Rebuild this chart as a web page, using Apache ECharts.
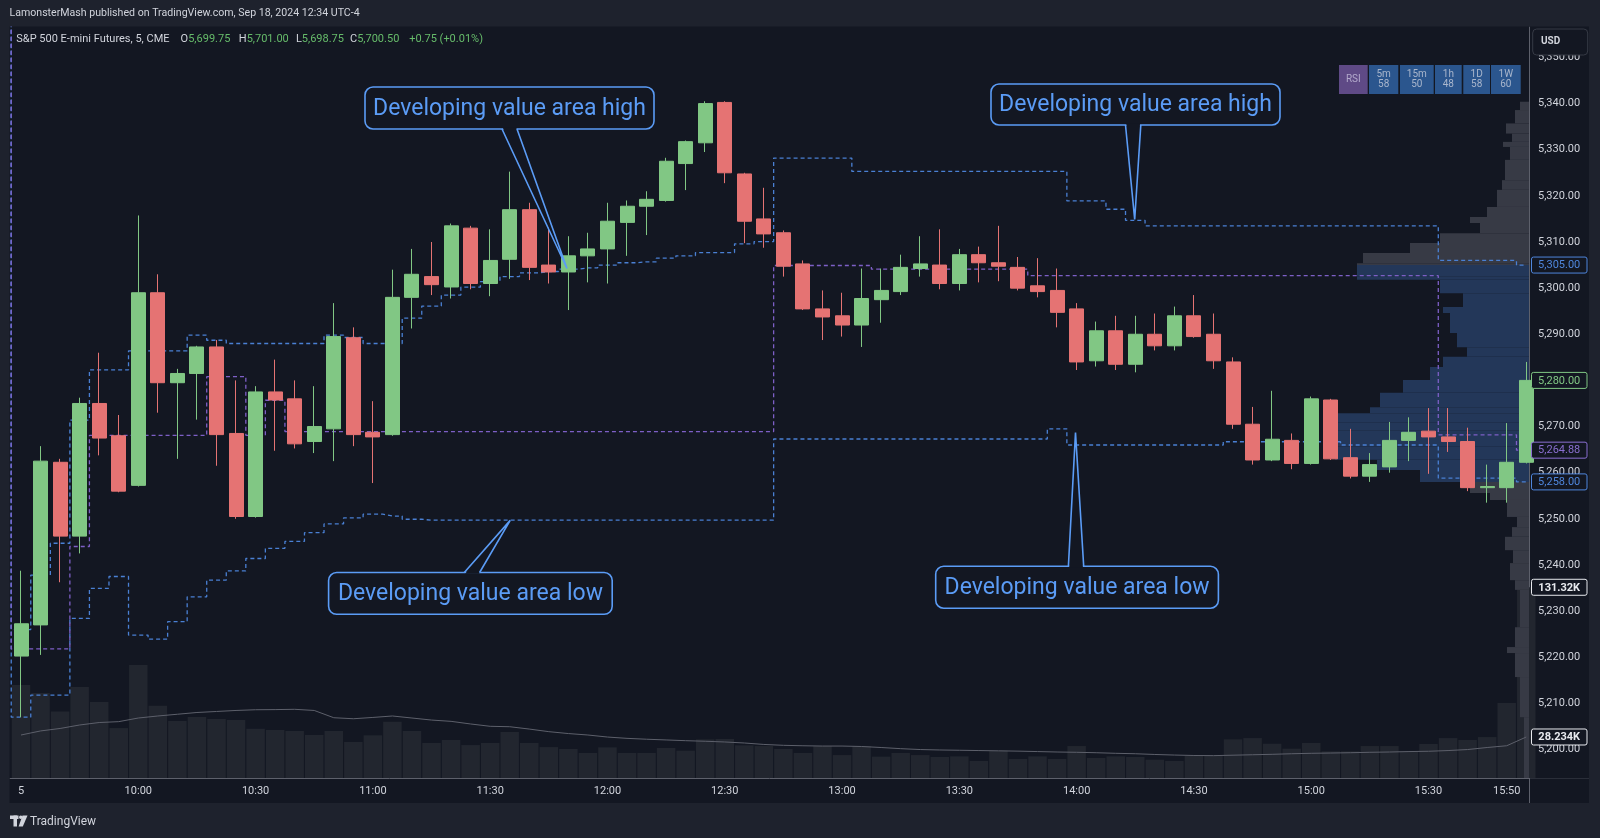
<!DOCTYPE html>
<html>
<head>
<meta charset="utf-8">
<title>ES 5m - developing value area</title>
<script src="https://cdn.jsdelivr.net/npm/echarts@6/dist/echarts.min.js"></script>
<style>
  html, body { margin: 0; padding: 0; background: #1e222d; }
  #chart { width: 1600px; height: 838px; }
</style>
</head>
<body>
<div id="chart"></div>
<script>
// 5-minute bars, 09:30 .. 15:55 (78 bars)
const opens = [
  5220.25, 5227.00, 5262.25, 5246.25, 5275.00, 5268.00, 5257.25, 5299.00, 5279.50, 5281.50,
  5287.25, 5268.50, 5250.50, 5277.50, 5276.00, 5266.75, 5269.50, 5289.25, 5268.75, 5268.25,
  5298.00, 5302.50, 5300.25, 5313.00, 5301.00, 5306.25, 5317.00, 5305.00, 5303.50, 5307.00,
  5308.50, 5314.25, 5317.75, 5319.00, 5327.00, 5331.50, 5340.25, 5324.75, 5315.00, 5312.00,
  5305.25, 5295.50, 5294.00, 5292.00, 5297.50, 5299.25, 5304.25, 5305.00, 5301.00, 5307.25,
  5305.50, 5304.50, 5300.50, 5299.50, 5295.50, 5284.25, 5290.75, 5283.50, 5290.00, 5287.50,
  5294.00, 5290.00, 5284.00, 5270.50, 5262.75, 5267.00, 5262.00, 5275.75, 5263.25, 5259.25,
  5261.25, 5267.00, 5269.00, 5267.75, 5266.75, 5256.75, 5256.75, 5262.25
];
const highs = [
  5238.75, 5265.75, 5263.00, 5276.25, 5286.00, 5272.50, 5315.75, 5303.00, 5282.50, 5287.50,
  5288.75, 5280.00, 5278.75, 5284.50, 5280.00, 5278.75, 5296.75, 5291.50, 5275.50, 5304.00,
  5308.50, 5310.00, 5314.00, 5313.50, 5312.75, 5325.25, 5318.50, 5314.75, 5311.25, 5312.00,
  5318.50, 5319.00, 5321.00, 5328.25, 5332.00, 5340.50, 5340.50, 5325.00, 5321.75, 5312.50,
  5306.00, 5299.50, 5299.00, 5304.25, 5304.25, 5307.25, 5311.25, 5312.75, 5308.50, 5309.00,
  5313.50, 5306.75, 5306.50, 5304.25, 5296.75, 5292.75, 5294.00, 5294.00, 5294.50, 5296.00,
  5298.50, 5294.50, 5285.00, 5274.25, 5277.75, 5268.50, 5276.50, 5276.00, 5269.50, 5264.25,
  5271.00, 5272.00, 5274.00, 5274.00, 5269.75, 5261.75, 5270.75, 5284.00
];
const lows = [
  5207.00, 5220.50, 5236.25, 5242.50, 5263.75, 5255.75, 5257.00, 5273.00, 5263.00, 5271.50,
  5261.50, 5250.00, 5250.25, 5264.75, 5265.25, 5264.25, 5262.50, 5265.75, 5257.75, 5268.00,
  5291.25, 5298.50, 5297.75, 5299.75, 5298.25, 5302.00, 5301.75, 5301.00, 5295.25, 5301.25,
  5301.00, 5307.00, 5311.50, 5318.75, 5321.25, 5329.50, 5322.75, 5309.75, 5308.75, 5302.50,
  5295.25, 5288.75, 5289.50, 5287.25, 5292.50, 5298.50, 5302.50, 5299.75, 5299.50, 5301.25,
  5301.50, 5299.50, 5298.00, 5291.50, 5282.25, 5283.00, 5282.25, 5281.75, 5286.50, 5286.50,
  5289.25, 5282.50, 5269.50, 5261.75, 5262.50, 5260.75, 5261.75, 5262.75, 5258.75, 5258.00,
  5260.00, 5262.50, 5259.75, 5264.50, 5256.00, 5253.50, 5253.50, 5262.00
];
const closes = [
  5227.25, 5262.50, 5246.25, 5275.00, 5267.50, 5256.00, 5299.00, 5279.50, 5281.50, 5287.25,
  5268.25, 5250.50, 5277.50, 5275.75, 5266.25, 5270.00, 5289.50, 5268.25, 5267.75, 5298.00,
  5303.00, 5300.75, 5313.50, 5301.00, 5306.00, 5317.00, 5304.50, 5303.50, 5307.00, 5308.50,
  5314.50, 5317.75, 5319.25, 5327.50, 5331.75, 5340.00, 5325.00, 5314.50, 5311.75, 5304.75,
  5295.50, 5293.75, 5292.00, 5297.75, 5299.50, 5304.50, 5305.25, 5301.00, 5307.25, 5305.50,
  5304.75, 5300.00, 5299.25, 5294.75, 5284.00, 5290.75, 5283.50, 5290.00, 5287.50, 5294.00,
  5289.50, 5284.25, 5270.50, 5262.75, 5267.25, 5262.00, 5276.00, 5263.00, 5259.25, 5261.75,
  5267.00, 5268.75, 5267.75, 5266.75, 5256.75, 5257.00, 5262.25, 5280.00
];
// volume in thousands of contracts, and its moving average
const volumes = [
  64.0, 58.5, 45.8, 62.7, 52.3, 34.4, 77.8, 49.8, 39.3, 42.0,
  40.6, 39.9, 33.9, 33.1, 32.4, 29.6, 32.4, 24.8, 29.4, 38.8,
  32.4, 24.1, 26.2, 22.7, 24.1, 31.7, 24.1, 21.3, 20.0, 17.2,
  21.1, 17.2, 17.2, 20.7, 18.8, 26.6, 26.9, 22.5, 22.0, 20.0,
  17.2, 22.0, 15.8, 22.0, 14.7, 17.2, 15.8, 14.5, 14.9, 11.7,
  18.8, 13.1, 14.9, 13.1, 22.0, 13.8, 14.9, 14.5, 12.6, 11.7,
  15.4, 15.4, 26.6, 27.5, 23.6, 20.2, 24.1, 18.4, 18.4, 22.0,
  22.0, 18.4, 23.4, 27.5, 26.2, 28.2, 51.6, 131.32
];
const volumeMA = [
  29.6, 32.4, 34.1, 36.5, 38.2, 38.8, 41.3, 42.7, 43.9, 45.1,
  45.8, 46.5, 47.0, 47.1, 47.3, 46.5, 41.5, 40.8, 41.7, 42.7,
  41.3, 39.9, 39.0, 37.2, 35.6, 35.3, 33.7, 31.9, 30.6, 29.6,
  28.2, 27.3, 26.7, 26.2, 25.7, 25.3, 24.8, 24.1, 23.1, 22.5,
  22.2, 22.0, 22.0, 21.7, 21.0, 20.2, 19.6, 19.3, 19.1, 18.9,
  18.7, 18.5, 18.2, 17.9, 17.7, 17.4, 17.0, 16.7, 16.2, 15.8,
  15.5, 15.4, 15.7, 16.0, 16.3, 16.7, 17.0, 17.2, 17.4, 17.7,
  17.9, 18.2, 18.4, 18.9, 19.6, 21.0, 22.2, 28.234
];
// developing value area high / low and point of control
const devVAH = [
  5226.0, 5237.8, 5244.7, 5271.4, 5282.3, 5282.3, 5286.4, 5286.4, 5286.4, 5289.8,
  5288.7, 5288.0, 5288.0, 5288.0, 5288.0, 5288.0, 5289.8, 5289.3, 5288.0, 5288.0,
  5293.5, 5296.1, 5298.5, 5300.2, 5301.4, 5302.5, 5303.3, 5303.6, 5304.1, 5304.4,
  5305.0, 5305.5, 5305.7, 5306.5, 5307.0, 5307.7, 5307.7, 5309.6, 5310.1, 5328.2,
  5328.2, 5328.2, 5328.2, 5325.3, 5325.3, 5325.3, 5325.3, 5325.3, 5325.3, 5325.3,
  5325.3, 5325.3, 5325.3, 5325.3, 5318.9, 5318.9, 5317.1, 5314.7, 5313.5, 5313.5,
  5313.5, 5313.5, 5313.5, 5313.5, 5313.5, 5313.5, 5313.5, 5313.5, 5313.5, 5313.5,
  5313.5, 5313.5, 5313.5, 5306.0, 5306.0, 5306.0, 5306.0, 5305.0
];
const devVAL = [
  5207.0, 5211.8, 5211.8, 5228.4, 5234.9, 5237.5, 5224.8, 5223.9, 5227.7, 5233.1,
  5236.7, 5238.7, 5241.4, 5243.6, 5245.1, 5247.0, 5248.9, 5250.2, 5251.0, 5250.6,
  5249.9, 5249.7, 5249.7, 5249.7, 5249.7, 5249.7, 5249.7, 5249.7, 5249.7, 5249.7,
  5249.7, 5249.7, 5249.7, 5249.7, 5249.7, 5249.7, 5249.7, 5249.7, 5249.7, 5267.3,
  5267.3, 5267.3, 5267.3, 5267.3, 5267.3, 5267.3, 5267.3, 5267.3, 5267.3, 5267.3,
  5267.3, 5267.3, 5267.3, 5269.5, 5266.0, 5266.0, 5266.0, 5266.0, 5266.0, 5266.0,
  5266.0, 5266.0, 5266.7, 5266.7, 5266.7, 5266.7, 5266.7, 5266.7, 5266.0, 5266.0,
  5266.0, 5266.0, 5266.0, 5258.8, 5258.8, 5258.8, 5258.8, 5258.0
];
const devPOC = [
  5221.8, 5221.8, 5221.8, 5244.0, 5268.1, 5268.1, 5268.1, 5268.1, 5268.1, 5268.1,
  5280.8, 5280.8, 5268.1, 5275.7, 5268.9, 5268.9, 5268.9, 5268.9, 5268.9, 5268.9,
  5268.9, 5268.9, 5268.9, 5268.9, 5268.9, 5268.9, 5268.9, 5268.9, 5268.9, 5268.9,
  5268.9, 5268.9, 5268.9, 5268.9, 5268.9, 5268.9, 5268.9, 5268.9, 5268.9, 5304.9,
  5304.9, 5304.9, 5304.9, 5304.9, 5304.1, 5304.1, 5304.1, 5304.1, 5304.1, 5304.1,
  5304.1, 5304.1, 5302.7, 5302.7, 5302.7, 5302.7, 5302.7, 5302.7, 5302.7, 5302.7,
  5302.7, 5302.7, 5302.7, 5302.7, 5302.7, 5302.7, 5302.7, 5302.7, 5302.7, 5302.7,
  5302.7, 5302.7, 5302.7, 5268.2, 5268.2, 5268.2, 5268.2, 5264.88
];
// values of the bar before the open (VAH, VAL, POC), above the visible range
const priorValues = [5372, 5360, 5366];

// session volume profile: row edges (price) and row volume
const profEdges = [
  5340.4, 5338.6, 5335.7, 5333.5, 5331.7, 5330.6, 5327.8, 5323.4, 5321.3, 5317.6,
  5315.4, 5314.1, 5311.9, 5309.8, 5307.6, 5305.4, 5305.0, 5302.6, 5301.8, 5298.9,
  5295.9, 5294.6, 5290.3, 5287.2, 5285.1, 5282.9, 5280.1, 5277.3, 5274.2, 5272.9,
  5270.8, 5269.2, 5265.6, 5262.8, 5260.6, 5258.0, 5255.6, 5254.1, 5250.4, 5248.2,
  5246.1, 5243.2, 5240.4, 5236.7, 5234.6, 5226.5, 5222.2, 5220.9, 5215.7, 5207.0, 5190.0
];
const profVol = [
  9, 14, 23, 17, 26, 19, 24, 27, 32, 42,
  59, 49, 89, 119, 166, 172, 172, 172, 89, 66,
  86, 79, 72, 62, 86, 99, 126, 149, 159, 191,
  201, 192, 194, 152, 109, 59, 39, 22, 12, 17,
  24, 16, 19, 14, 9, 14, 22, 14, 9, 5
];
const vaHigh = 5305.00;
const vaLow = 5258.00;
const lastClose = 5280.00;
const lastPOC = 5264.88;
const lastVolume = 131.32;
const lastVolumeMA = 28.234;

const tickIdx = [0, 6, 12, 18, 24, 30, 36, 42, 48, 54, 60, 66, 72, 76];
const tickText = ['5', '10:00', '10:30', '11:00', '11:30', '12:00', '12:30', '13:00', '13:30', '14:00', '14:30', '15:00', '15:30', '15:50'];
const priceTicks = [5200, 5210, 5220, 5230, 5240, 5250, 5260, 5270, 5280, 5290, 5300, 5310, 5320, 5330, 5340, 5350];

const rsiFrames = ['5m', '15m', '1h', '1D', '1W'];
const rsiValues = [58, 50, 48, 58, 60];

const FONT = 'Roboto, "Noto Sans", sans-serif';
const BG = '#131722';
const FRAME = '#1e222d';
const BLUE = '#4a80d4';
const PURPLE = '#7d5fc6';
const NOTE = '#5b9cf6';
const UP = '#81c784';
const DOWN = '#e57373';

const fmtPrice = v => v.toLocaleString('en-US', { minimumFractionDigits: 2, maximumFractionDigits: 2 });

const candles = opens.map((o, i) => [i, o, closes[i], lows[i], highs[i]]);
const volData = volumes.map((v, i) => [i, v]);
const maData = volumeMA.map((v, i) => [i, v]);
const profData = profVol.map((v, i) => [v, profEdges[i], profEdges[i + 1]]);

function devLine(name, prior, values, color) {
  return {
    type: 'line', name: name, xAxisIndex: 0, yAxisIndex: 0,
    step: 'middle', symbol: 'none', silent: true, z: 4,
    lineStyle: { color: color, width: 1.3, type: [4, 3] },
    data: [[-1, prior]].concat(values.map((v, i) => [i, v]))
  };
}

const chart = echarts.init(document.getElementById('chart'));

chart.setOption({
  animation: false,
  backgroundColor: BG,
  textStyle: { fontFamily: FONT },
  grid: { left: 10, right: 71, top: 27, bottom: 60 },
  xAxis: [
    {
      type: 'value', min: -0.5627, max: 77.14,
      axisLine: { show: true, onZero: false, lineStyle: { color: '#5d606b' } },
      axisTick: { show: false },
      splitLine: { show: false },
      axisLabel: {
        customValues: tickIdx,
        formatter: v => tickText[tickIdx.indexOf(v)],
        color: '#d1d4dc', fontSize: 11, margin: 8
      }
    },
    { type: 'value', inverse: true, min: 0, max: 1519, show: false }
  ],
  yAxis: [
    {
      type: 'value', position: 'right', min: 5193.82, max: 5356.6,
      axisLine: { show: true, onZero: false, lineStyle: { color: '#5d606b' } },
      axisTick: { show: false },
      splitLine: { show: false },
      axisLabel: {
        customValues: priceTicks,
        formatter: fmtPrice,
        color: '#d1d4dc', fontSize: 11, margin: 9
      }
    },
    { type: 'value', min: 0, max: 517.1, show: false }
  ],
  series: [
    {
      type: 'bar', name: 'Volume', xAxisIndex: 0, yAxisIndex: 1,
      barWidth: 18.5, silent: true, z: 1,
      itemStyle: { color: '#22262f' },
      data: volData
    },
    {
      type: 'custom', name: 'Volume profile', xAxisIndex: 1, yAxisIndex: 0,
      clip: true, silent: true, z: 2,
      encode: { x: 0, y: [1, 2] },
      renderItem: function (params, api) {
        const hi = api.value(1);
        const lo = api.value(2);
        const a = api.coord([api.value(0), hi]);
        const b = api.coord([0, lo]);
        const inVA = hi <= vaHigh + 0.01 && lo >= vaLow - 0.01;
        return {
          type: 'rect',
          shape: { x: a[0], y: a[1], width: b[0] - a[0], height: b[1] - a[1] },
          style: { fill: inVA ? '#233759' : '#373a45' }
        };
      },
      data: profData
    },
    {
      type: 'line', name: 'Volume MA', xAxisIndex: 0, yAxisIndex: 1,
      symbol: 'none', silent: true, z: 3,
      lineStyle: { color: '#5d606b', width: 1 },
      data: maData
    },
    devLine('VAL', priorValues[1], devVAL, BLUE),
    devLine('VAH', priorValues[0], devVAH, BLUE),
    devLine('POC', priorValues[2], devPOC, PURPLE),
    {
      type: 'candlestick', name: 'ES1!', xAxisIndex: 0, yAxisIndex: 0,
      barWidth: 14.5, z: 5,
      encode: { x: 0, y: [1, 2, 3, 4] },
      itemStyle: { color: UP, color0: DOWN, borderColor: UP, borderColor0: DOWN, borderWidth: 1 },
      data: candles
    }
  ]
});

// ---- overlays: frame, header, price tags, callouts ----
const py = p => chart.convertToPixel({ yAxisIndex: 0 }, p);
const vy = v => chart.convertToPixel({ yAxisIndex: 1 }, v);

const els = [];
// outer frame
els.push({ type: 'rect', shape: { x: 0, y: 0, width: 1600, height: 26.5 }, style: { fill: FRAME }, z: 90 });
els.push({ type: 'rect', shape: { x: 0, y: 803, width: 1600, height: 35 }, style: { fill: FRAME }, z: 90 });
els.push({ type: 'rect', shape: { x: 0, y: 0, width: 9.5, height: 838 }, style: { fill: FRAME }, z: 90 });
els.push({ type: 'rect', shape: { x: 1589, y: 0, width: 11, height: 838 }, style: { fill: FRAME }, z: 90 });
els.push({ type: 'line', shape: { x1: 1529.5, y1: 778, x2: 1529.5, y2: 803 }, style: { stroke: '#5d606b', lineWidth: 1 }, z: 90 });
els.push({ type: 'line', shape: { x1: 1530, y1: 778.5, x2: 1589, y2: 778.5 }, style: { stroke: '#2a2e39', lineWidth: 1 }, z: 90 });

// header
els.push({ type: 'text', x: 9.5, y: 13.5, style: { text: 'LamonsterMash published on TradingView.com, Sep 18, 2024 12:34 UTC-4', fill: '#d1d4dc', font: '10.6px ' + FONT, align: 'left', verticalAlign: 'middle' }, z: 95 });
els.push({ type: 'text', x: 16.3, y: 39, style: { text: 'S&P 500 E-mini Futures, 5, CME', fill: '#d1d4dc', font: '11px ' + FONT, align: 'left', verticalAlign: 'middle' }, z: 95 });
const ohlc = [['O', '5,699.75', 180.6], ['H', '5,701.00', 238.8], ['L', '5,698.75', 295.9], ['C', '5,700.50', 350.0]];
ohlc.forEach(function (d) {
  els.push({
    type: 'text', x: d[2], y: 39,
    style: {
      text: '{k|' + d[0] + '}{v|' + d[1] + '}', align: 'left', verticalAlign: 'middle',
      rich: { k: { fill: '#d1d4dc', font: '11px ' + FONT }, v: { fill: '#66bb6a', font: '11px ' + FONT } }
    },
    z: 95
  });
});
els.push({ type: 'text', x: 409.2, y: 39, style: { text: '+0.75 (+0.01%)', fill: '#66bb6a', font: '11px ' + FONT, align: 'left', verticalAlign: 'middle' }, z: 95 });

// RSI multi-timeframe table
const rsiX = [1369, 1400, 1435, 1463.3, 1491];
const rsiW = [29.3, 33.7, 26.7, 26.7, 29.7];
els.push({ type: 'rect', shape: { x: 1339, y: 65, width: 28.7, height: 29 }, style: { fill: '#5f4a86' }, z: 95 });
els.push({ type: 'text', x: 1353.3, y: 79.5, style: { text: 'RSI', fill: '#b3a9cc', font: '10px ' + FONT, align: 'center', verticalAlign: 'middle' }, z: 96 });
rsiFrames.forEach(function (f, i) {
  els.push({ type: 'rect', shape: { x: rsiX[i], y: 65, width: rsiW[i], height: 29 }, style: { fill: '#2b568e' }, z: 95 });
  els.push({ type: 'text', x: rsiX[i] + rsiW[i] / 2, y: 74.5, style: { text: f, fill: '#a9b6cc', font: '10px ' + FONT, align: 'center', verticalAlign: 'middle' }, z: 96 });
  els.push({ type: 'text', x: rsiX[i] + rsiW[i] / 2, y: 84.5, style: { text: String(rsiValues[i]), fill: '#a9b6cc', font: '10px ' + FONT, align: 'center', verticalAlign: 'middle' }, z: 96 });
});

// USD box
els.push({ type: 'rect', shape: { x: 1532.7, y: 29, width: 55, height: 26, r: 4 }, style: { fill: BG, stroke: '#363a45', lineWidth: 1 }, z: 95 });
els.push({ type: 'text', x: 1541, y: 41.5, style: { text: 'USD', fill: '#d1d4dc', font: 'bold 10px ' + FONT, align: 'left', verticalAlign: 'middle' }, z: 96 });

// price / volume tags on the right scale
function tag(y, text, color, bold) {
  els.push({ type: 'rect', shape: { x: 1531.5, y: y - 8, width: 55.5, height: 16, r: 2 }, style: { fill: BG, stroke: color, lineWidth: 1 }, z: 95 });
  els.push({ type: 'text', x: 1559.2, y: y + 0.5, style: { text: text, fill: color, font: (bold ? 'bold ' : '') + '11px ' + FONT, align: 'center', verticalAlign: 'middle' }, z: 96 });
}
tag(py(vaHigh), fmtPrice(vaHigh), '#4f86dc', false);
tag(py(lastClose), fmtPrice(lastClose), UP, false);
tag(py(lastPOC), fmtPrice(lastPOC), '#8a6fd0', false);
tag(py(vaLow), fmtPrice(vaLow), '#4f86dc', false);
tag(vy(lastVolume), lastVolume + 'K', '#e8eaef', true);
tag(vy(lastVolumeMA), lastVolumeMA + 'K', '#e8eaef', true);

// callouts
function callout(box, b1, b2, edge, tip, label) {
  const inward = edge > box[1] + box[3] / 2 ? -1.2 : 1.2;
  els.push({ type: 'rect', shape: { x: box[0], y: box[1], width: box[2], height: box[3], r: 8 }, style: { fill: BG, stroke: NOTE, lineWidth: 1.6 }, z: 80 });
  els.push({ type: 'polygon', shape: { points: [[b1 + 0.8, edge + inward], tip, [b2 - 0.8, edge + inward]] }, style: { fill: BG }, z: 81 });
  els.push({ type: 'polyline', shape: { points: [[b1, edge], tip, [b2, edge]] }, style: { stroke: NOTE, lineWidth: 1.6, fill: null }, z: 82 });
  els.push({ type: 'text', x: box[0] + box[2] / 2, y: box[1] + box[3] / 2 + 1, style: { text: label, fill: NOTE, font: '23px ' + FONT, align: 'center', verticalAlign: 'middle' }, z: 83 });
}
callout([365, 87, 289, 42], 502, 517, 129, [567, 268.5], 'Developing value area high');
callout([991, 84, 289, 41], 1125.5, 1140.8, 125, [1134.7, 219.5], 'Developing value area high');
callout([328.6, 572.5, 283.6, 41.8], 464.3, 479.6, 572.5, [510.2, 520.4], 'Developing value area low');
callout([935.7, 566.3, 282.7, 41.9], 1068.4, 1083.7, 566.3, [1075.5, 432.5], 'Developing value area low');

// footer logo
els.push({ type: 'rect', shape: { x: 10, y: 815.5, width: 8.5, height: 3.5 }, style: { fill: '#d1d4dc' }, z: 95 });
els.push({ type: 'rect', shape: { x: 13.5, y: 815.5, width: 3.5, height: 11 }, style: { fill: '#d1d4dc' }, z: 95 });
els.push({ type: 'circle', shape: { cx: 20.8, cy: 817.3, r: 1.8 }, style: { fill: '#d1d4dc' }, z: 95 });
els.push({ type: 'polygon', shape: { points: [[22.5, 815.5], [27.5, 815.5], [22.8, 826.5], [18.6, 826.5]] }, style: { fill: '#d1d4dc' }, z: 95 });
els.push({ type: 'text', x: 30, y: 821.5, style: { text: 'TradingView', fill: '#d1d4dc', font: '12px ' + FONT, align: 'left', verticalAlign: 'middle' }, z: 95 });

chart.setOption({ graphic: { elements: els } });
</script>
</body>
</html>
